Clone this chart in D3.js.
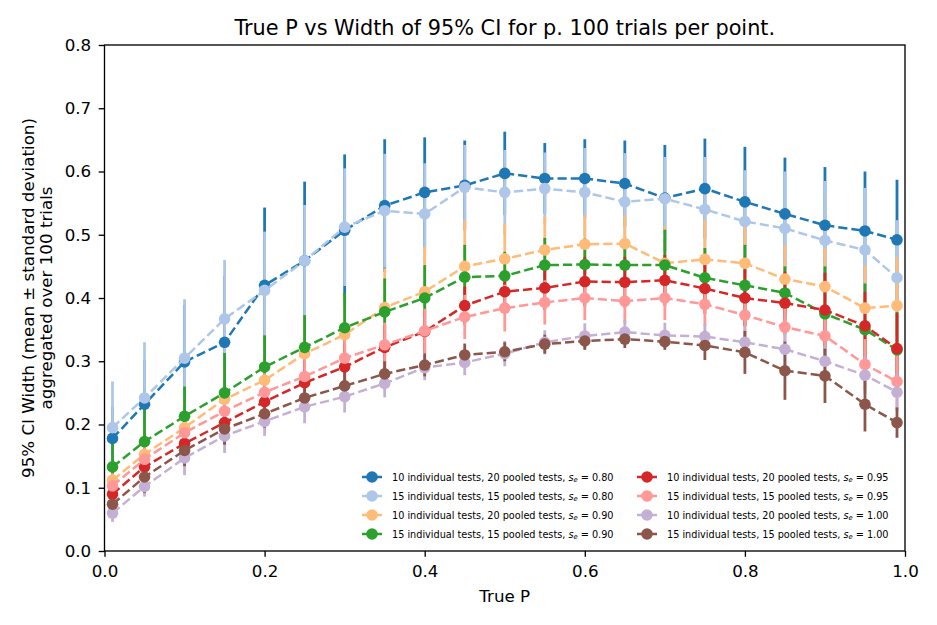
<!DOCTYPE html>
<html>
<head>
<meta charset="utf-8">
<script src="https://cdn.jsdelivr.net/npm/d3@7/dist/d3.min.js"></script>
<style>
  html, body { margin: 0; padding: 0; background: #fff; }
  svg { display: block; font-family: "DejaVu Sans", sans-serif; }
</style>
</head>
<body>
<svg id="chart" width="937" height="625"></svg>
<script>
// ---- data ----
const trueP = [0.01, 0.05, 0.10, 0.15, 0.20, 0.25, 0.30, 0.35, 0.40, 0.45, 0.50,
               0.55, 0.60, 0.65, 0.70, 0.75, 0.80, 0.85, 0.90, 0.95, 0.99];

const seriesLabels = [
  ["10 individual tests, 20 pooled tests, ", "0.80"],
  ["15 individual tests, 15 pooled tests, ", "0.80"],
  ["10 individual tests, 20 pooled tests, ", "0.90"],
  ["15 individual tests, 15 pooled tests, ", "0.90"],
  ["10 individual tests, 20 pooled tests, ", "0.95"],
  ["15 individual tests, 15 pooled tests, ", "0.95"],
  ["10 individual tests, 20 pooled tests, ", "1.00"],
  ["15 individual tests, 15 pooled tests, ", "1.00"]
];
const seriesColors = ["#1f77b4", "#aec7e8", "#ffbb78", "#2ca02c",
                      "#d62728", "#ff9896", "#c5b0d5", "#8c564b"];

const mean1 = [0.178, 0.232, 0.299, 0.330, 0.420, 0.459, 0.507, 0.546, 0.567, 0.578, 0.597, 0.589, 0.589, 0.581, 0.558, 0.573, 0.552, 0.533, 0.515, 0.506, 0.492];
const std1  = [0.050, 0.070, 0.090, 0.105, 0.123, 0.125, 0.120, 0.105, 0.087, 0.071, 0.066, 0.056, 0.062, 0.068, 0.084, 0.079, 0.087, 0.089, 0.092, 0.094, 0.095];
const mean2 = [0.195, 0.242, 0.305, 0.367, 0.412, 0.459, 0.512, 0.538, 0.533, 0.575, 0.567, 0.573, 0.567, 0.552, 0.557, 0.540, 0.521, 0.510, 0.491, 0.476, 0.432];
const std2  = [0.073, 0.088, 0.093, 0.093, 0.093, 0.088, 0.093, 0.090, 0.080, 0.067, 0.067, 0.057, 0.070, 0.077, 0.066, 0.083, 0.081, 0.090, 0.094, 0.098, 0.091];
const mean3 = [0.112, 0.153, 0.195, 0.240, 0.270, 0.312, 0.342, 0.385, 0.410, 0.450, 0.462, 0.476, 0.485, 0.486, 0.455, 0.461, 0.455, 0.430, 0.418, 0.384, 0.388];
const std3  = [0.030, 0.040, 0.045, 0.050, 0.055, 0.060, 0.062, 0.062, 0.071, 0.073, 0.056, 0.053, 0.046, 0.045, 0.058, 0.062, 0.060, 0.054, 0.061, 0.068, 0.077];
const mean4 = [0.133, 0.173, 0.213, 0.250, 0.291, 0.322, 0.353, 0.378, 0.400, 0.433, 0.435, 0.452, 0.453, 0.452, 0.452, 0.432, 0.420, 0.408, 0.375, 0.350, 0.318];
const std4  = [0.042, 0.060, 0.047, 0.063, 0.050, 0.051, 0.055, 0.053, 0.052, 0.051, 0.038, 0.043, 0.041, 0.035, 0.056, 0.047, 0.064, 0.042, 0.075, 0.073, 0.060];
const mean5 = [0.090, 0.133, 0.170, 0.203, 0.236, 0.266, 0.291, 0.322, 0.347, 0.388, 0.410, 0.416, 0.426, 0.425, 0.428, 0.415, 0.400, 0.392, 0.381, 0.356, 0.320];
const std5  = [0.025, 0.030, 0.030, 0.035, 0.035, 0.035, 0.035, 0.035, 0.035, 0.030, 0.030, 0.035, 0.039, 0.040, 0.040, 0.040, 0.045, 0.050, 0.059, 0.054, 0.056];
const mean6 = [0.103, 0.145, 0.187, 0.221, 0.251, 0.276, 0.305, 0.326, 0.348, 0.370, 0.384, 0.393, 0.400, 0.395, 0.400, 0.390, 0.373, 0.354, 0.340, 0.295, 0.268];
const std6  = [0.020, 0.025, 0.030, 0.030, 0.030, 0.030, 0.035, 0.035, 0.035, 0.035, 0.037, 0.035, 0.035, 0.035, 0.035, 0.035, 0.035, 0.040, 0.040, 0.040, 0.045];
const mean7 = [0.060, 0.102, 0.147, 0.182, 0.205, 0.228, 0.244, 0.265, 0.290, 0.298, 0.312, 0.330, 0.340, 0.346, 0.341, 0.339, 0.330, 0.319, 0.300, 0.278, 0.251];
const std7  = [0.014, 0.016, 0.027, 0.027, 0.023, 0.026, 0.025, 0.022, 0.020, 0.020, 0.020, 0.019, 0.020, 0.020, 0.020, 0.020, 0.025, 0.025, 0.025, 0.030, 0.030];
const mean8 = [0.074, 0.117, 0.159, 0.193, 0.217, 0.242, 0.261, 0.280, 0.294, 0.310, 0.315, 0.327, 0.332, 0.335, 0.331, 0.325, 0.314, 0.285, 0.277, 0.232, 0.203];
const std8  = [0.020, 0.025, 0.025, 0.025, 0.022, 0.022, 0.022, 0.020, 0.018, 0.018, 0.015, 0.015, 0.014, 0.014, 0.013, 0.023, 0.034, 0.046, 0.043, 0.043, 0.024];

const xTicks = [0.0, 0.2, 0.4, 0.6, 0.8, 1.0];
const yTicks = [0.0, 0.1, 0.2, 0.3, 0.4, 0.5, 0.6, 0.7, 0.8];

const titleText = "True P vs Width of 95% CI for p. 100 trials per point.";
const xLabel = "True P";
const yLabel1 = "95% CI Width (mean \u00b1 standard deviation)";
const yLabel2 = "aggregated over 100 trials";

// ---- build ----
const means = [mean1, mean2, mean3, mean4, mean5, mean6, mean7, mean8];
const stds = [std1, std2, std3, std4, std5, std6, std7, std8];
const series = means.map((m, i) => ({
  color: seriesColors[i],
  label: seriesLabels[i],
  pts: trueP.map((p, j) => ({ x: p, y: m[j], s: stds[i][j] }))
}));

const svg = d3.select("#chart");
const L = 104.5, R = 905, T = 45, B = 551;
const x = d3.scaleLinear().domain([0, 1]).range([L, R]);
const y = d3.scaleLinear().domain([0, 0.8]).range([B, T]);

// error bars (all first, beneath every line)
const ebG = svg.append("g");
series.forEach(s => {
  ebG.append("g").selectAll("line").data(s.pts).join("line")
    .attr("x1", d => x(d.x)).attr("x2", d => x(d.x))
    .attr("y1", d => y(d.y - d.s)).attr("y2", d => y(d.y + d.s))
    .attr("stroke", s.color).attr("stroke-width", 2.8);
});

// lines + markers
const line = d3.line().x(d => x(d.x)).y(d => y(d.y));
series.forEach(s => {
  const g = svg.append("g");
  g.append("path").datum(s.pts).attr("d", line)
    .attr("fill", "none").attr("stroke", s.color)
    .attr("stroke-width", 2.5).attr("stroke-dasharray", "9.2,4");
  g.selectAll("circle").data(s.pts).join("circle")
    .attr("cx", d => x(d.x)).attr("cy", d => y(d.y)).attr("r", 5.8)
    .attr("fill", s.color);
});

// axes
const xAxis = svg.append("g").attr("transform", `translate(0,${B})`)
  .call(d3.axisBottom(x).tickValues(xTicks).tickFormat(d3.format(".1f")).tickSizeOuter(0).tickSize(5.8).tickPadding(8));
const yAxis = svg.append("g").attr("transform", `translate(${L},0)`)
  .call(d3.axisLeft(y).tickValues(yTicks).tickFormat(d3.format(".1f")).tickSizeOuter(0).tickSize(5.8).tickPadding(7.5));
[xAxis, yAxis].forEach(a => {
  a.selectAll("text").attr("font-size", 16.7).attr("fill", "#000").attr("font-family", "DejaVu Sans");
  a.selectAll("line").attr("stroke", "#000").attr("stroke-width", 1.33);
  a.select(".domain").remove();
});
xAxis.selectAll("text").attr("dy", "0.71em");
// frame
svg.append("rect").attr("x", L).attr("y", T).attr("width", R - L).attr("height", B - T)
  .attr("fill", "none").attr("stroke", "#000").attr("stroke-width", 1.33);

// title & labels
svg.append("text").attr("x", (L + R) / 2).attr("y", 35).attr("text-anchor", "middle")
  .attr("font-size", 20.8).text(titleText);
svg.append("text").attr("x", (L + R) / 2).attr("y", 602).attr("text-anchor", "middle")
  .attr("font-size", 16.7).text(xLabel);
svg.append("text").attr("transform", `translate(33.5,${(T + B) / 2}) rotate(-90)`)
  .attr("text-anchor", "middle").attr("font-size", 16.7).text(yLabel1);
svg.append("text").attr("transform", `translate(52,${(T + B) / 2}) rotate(-90)`)
  .attr("text-anchor", "middle").attr("font-size", 16.7).text(yLabel2);

// legend (no frame)
const legG = svg.append("g");
const colX = [372, 647];
const row0 = 477, rowH = 19;
series.forEach((s, i) => {
  const cx = colX[Math.floor(i / 4)];
  const cy = row0 + (i % 4) * rowH;
  const g = legG.append("g");
  g.append("line").attr("x1", cx - 10).attr("x2", cx + 10).attr("y1", cy).attr("y2", cy)
    .attr("stroke", s.color).attr("stroke-width", 2.5);
  g.append("line").attr("x1", cx).attr("x2", cx).attr("y1", cy - 5).attr("y2", cy + 5)
    .attr("stroke", s.color).attr("stroke-width", 2.8);
  g.append("circle").attr("cx", cx).attr("cy", cy).attr("r", 5.8).attr("fill", s.color);
  const t = g.append("text").attr("x", cx + 20).attr("y", cy + 3.5).attr("font-size", 9.7);
  t.append("tspan").text(s.label[0]);
  t.append("tspan").attr("font-style", "italic").text("s");
  t.append("tspan").attr("font-style", "italic").attr("font-size", 6.8).attr("dy", 1.6).text("e");
  t.append("tspan").attr("dy", -1.6).text(" = " + s.label[1]);
});
</script>
</body>
</html>
